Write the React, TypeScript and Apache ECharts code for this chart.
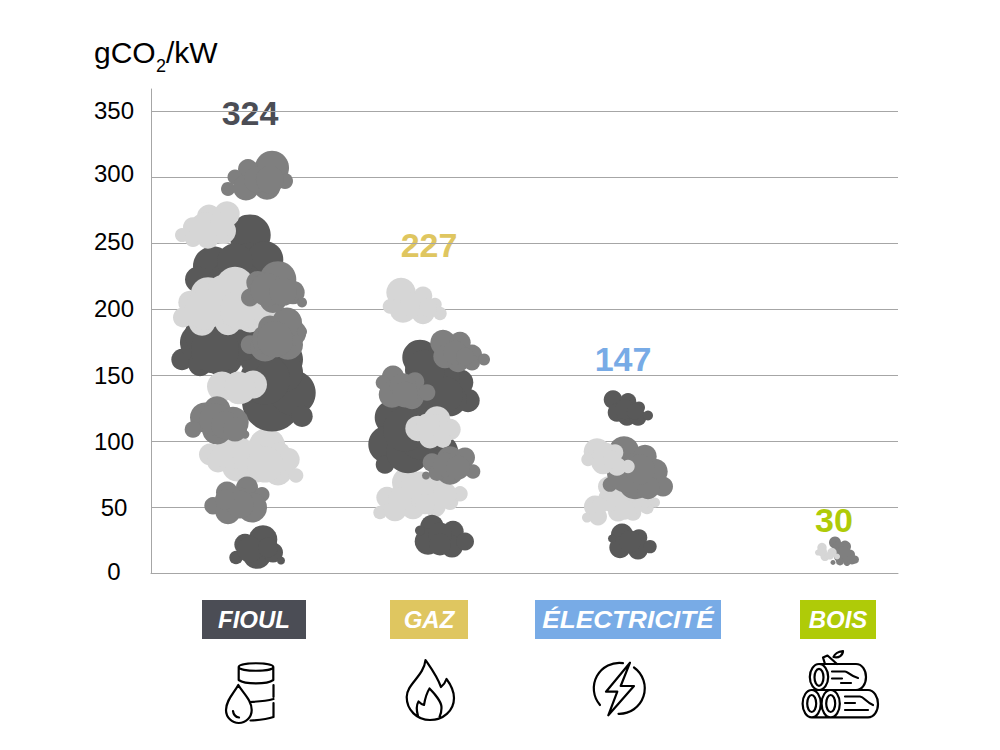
import React, { useEffect, useRef } from 'react';
import * as echarts from 'echarts';

const categories = ['FIOUL', 'GAZ', 'ÉLECTRICITÉ', 'BOIS'];
const totals = [324, 227, 147, 30];
const categoryColors = ['#4B4D55', '#DFC660', '#78ABE6', '#AFCB08'];
const yTicks = [0, 50, 100, 150, 200, 250, 300, 350];
const yLabelLift = [2, 0, 0, 0, 1, 2, 4, 1]; // the source nudges its tick labels by hand

// each puff is [x position, gCO2/kW, radius]
const fioulMidTop = [[272, 307, 17], [248, 306, 10], [235, 300, 7.5], [228, 291, 7], [246, 292, 13], [267, 293, 13.5], [285, 297, 8], [257, 298, 13], [270, 298, 14]];
const fioulDarkUpper = [[250, 256, 20.7], [213, 232.4, 20], [250, 235, 20], [265, 237.5, 18.3], [198, 222.4, 13], [235, 214.8, 30], [235, 236, 18]];
const fioulLightTop = [[227, 272, 12.7], [209, 270, 12], [193, 262, 10], [182, 256, 7], [193, 253, 8], [208, 254, 11], [223, 259, 13], [205, 261.8, 15], [222, 264, 12]];
const fioulLightBig = [[267, 95.8, 18.3], [210, 89.8, 11], [218, 84.5, 11], [237, 80.7, 15], [257, 80, 15], [278, 76.9, 14], [288, 86, 11.7], [296, 73.9, 7.3], [237, 91.3, 16.7], [280, 91.3, 10], [225, 89.8, 13], [250, 87.5, 17], [265, 82.2, 18]];
const fioulDarkRight = [[272, 130, 30], [293, 136.5, 22.7], [302, 118.8, 10.7], [283, 161.7, 20], [283, 152, 20], [265, 146.6, 25]];
const fioulDarkLower = [[182, 161.7, 10.7], [200, 174.6, 20], [200, 158, 11.7], [223, 164, 20], [250, 159.5, 9.3], [210, 180.7, 25], [240, 177, 22], [215, 169.3, 24]];
const fioulLightLarge = [[235, 217.3, 19.3], [208, 211, 17.3], [190, 205, 11.7], [183, 193.6, 10], [202, 189.8, 13.3], [228, 190, 13], [250, 192, 13], [273, 192, 11.7], [230, 202, 18.3], [257, 205, 16.7], [225, 211, 20], [205, 199.6, 20], [240, 199.6, 20], [265, 196, 12]];
const fioulMidLower = [[250, 173, 9.3], [265, 171.6, 15], [288, 173, 15], [293, 182, 13.3], [287, 189.8, 15], [302, 183, 5], [267, 177, 15], [270, 186, 12], [275, 177, 18]];
const fioulMidUpper = [[278, 222.4, 18.3], [258, 220, 11.7], [250, 208.7, 9], [273, 207.2, 13.5], [293, 212.5, 11.7], [302, 205, 5], [267, 214.8, 16.7], [283, 213, 14]];
const fioulLightSmall = [[253, 142.8, 14], [222, 141.3, 15], [238, 137.5, 12.7], [238, 142.8, 13], [240, 140, 16]];
const fioulMidThird = [[205, 117.8, 15], [217, 123.9, 13.3], [193, 108.7, 8.3], [217, 108.7, 15], [233, 114, 15.7], [245, 105, 4.3], [215, 116.3, 16], [225, 112, 14], [235, 108.7, 12]];
const fioulMidFourth = [[227, 61, 11], [247, 64.8, 11], [262, 59.5, 7.5], [213, 51, 8.7], [228, 46.6, 12.7], [252, 49.6, 15], [240, 55.7, 12], [240, 51.9, 14], [225, 55.7, 10]];
const fioulDarkBottom = [[263, 25.4, 14.3], [245, 21.6, 10.7], [236, 11.7, 6.7], [257, 14, 14.3], [273, 15.5, 10], [281, 9.5, 4], [250, 17.8, 13], [268, 19.3, 10]];

const gazLightTop = [[401, 212.5, 14.7], [423, 210, 9.3], [435, 203.4, 6.7], [440, 196.6, 6.7], [390, 202, 7.3], [403, 199.6, 13.3], [423, 197.4, 11.7], [412, 203.4, 12], [428, 201, 9]];
const gazLightLower = [[407, 68.6, 15], [387, 57.2, 10.7], [380, 45.8, 6.7], [395, 48, 11.7], [413, 49.6, 11.7], [435, 50.4, 10.7], [450, 54, 8.3], [460, 60, 7.7], [433, 63.3, 16.7], [420, 63.3, 18], [405, 59.5, 14], [400, 55.7, 12], [445, 59.5, 12], [425, 52, 10]];
const gazDarkUpper = [[420, 163.3, 17.7], [468, 130.7, 11.7], [460, 144.3, 13.3], [450, 131.4, 16.7], [427, 136.7, 23], [440, 150.4, 20], [445, 135.2, 18], [425, 154, 20]];
const gazDarkLower = [[392, 117.8, 17.3], [387, 97.4, 18.7], [385, 82.2, 9.3], [408, 92, 21.7], [410, 116.3, 20], [440, 91.3, 18.3], [420, 101.1, 20], [405, 108.7, 22]];
const gazMidLeft = [[393, 148.9, 11], [383, 144.3, 7.3], [392, 135.2, 13.3], [412, 133, 11.7], [415, 145, 9.3], [427, 136.7, 8.3], [403, 141.3, 13.3], [405, 135.2, 13]];
const gazMidTop = [[443, 174.6, 12.7], [460, 174.6, 10.7], [445, 164, 11.7], [458, 160.2, 10.7], [472, 165.5, 10], [472, 159.5, 8], [484, 161.7, 6], [455, 167, 12], [465, 164, 9]];
const gazLightMid = [[437, 116.3, 13.3], [418, 109.5, 12.7], [450, 108.7, 10.7], [430, 102.7, 11], [443, 101, 8.3], [435, 108.7, 15], [428, 112, 12]];
const gazMidLower = [[450, 86, 13.3], [465, 87.5, 10], [432, 83.7, 9.3], [450, 76.9, 13.3], [437, 76, 8.3], [473, 76.9, 7.3], [426, 73.9, 4], [445, 82.2, 12], [458, 79.9, 12]];
const gazDarkBottom = [[432, 35.2, 11.7], [428, 23.9, 13.3], [453, 31.4, 10.7], [452, 20, 11], [465, 23.9, 9], [420, 32.2, 5], [440, 29.2, 12], [440, 21.6, 11]];

const elecDarkTop = [[613, 131.4, 9.3], [628, 130, 8.3], [617, 121.6, 9.3], [627, 118.6, 9.3], [638, 117.8, 8.3], [639, 125.4, 6], [648, 119.3, 5], [625, 123.9, 10], [635, 122.3, 8]];
const elecLightLower = [[608, 65.5, 10], [595, 50.4, 11], [587, 42, 5], [598, 42.8, 9], [618, 46.6, 10], [633, 45.8, 8.3], [647, 49.6, 6.7], [655, 53.4, 5], [620, 58, 13.3], [610, 55.7, 12], [635, 55.7, 14], [625, 48, 10], [600, 51, 8], [645, 55.7, 8]];
const elecMid = [[624, 92, 15.3], [645, 88.3, 11.7], [655, 76.9, 12.7], [663, 65.5, 10], [635, 68.6, 16.7], [610, 67, 7.3], [648, 64.8, 11.7], [627, 76, 20], [640, 78.4, 15]];
const elecLightTop = [[597, 92, 13.3], [588, 86, 6.7], [603, 83.7, 11.7], [615, 91.3, 8.3], [617, 80.7, 9.3], [628, 80.7, 6.7], [605, 89.8, 12], [612, 86, 9]];
const elecDarkBottom = [[622, 29.2, 11], [620, 19.3, 10.7], [639, 26.9, 8.3], [638, 17.8, 10], [650, 20, 6.7], [612, 26.1, 4], [630, 23.9, 11]];

const boisMid = [[835, 23.1, 6], [845, 20, 6], [850, 14, 5], [855, 10.2, 4], [840, 12.5, 6], [847, 8, 3.5], [833, 8, 2.5], [838, 19.3, 6], [843, 14, 8], [852, 10.2, 5], [840, 8.8, 4]];
const boisLight = [[822, 19.3, 4.7], [818, 15.5, 3], [825, 12.5, 4.5], [832, 15.5, 4.7], [837, 12.5, 3], [822, 16.3, 5], [830, 13.2, 4]];

const DARK = '#595959';
const MID = '#7F7F7F';
const LIGHT = '#D6D6D6';

// painted in this order, later clouds cover earlier ones
const clouds: [number[][], string][] = [
  [fioulMidTop, MID],
  [fioulDarkUpper, DARK],
  [fioulLightTop, LIGHT],
  [fioulLightBig, LIGHT],
  [fioulDarkRight, DARK],
  [fioulDarkLower, DARK],
  [fioulLightLarge, LIGHT],
  [fioulMidLower, MID],
  [fioulMidUpper, MID],
  [fioulLightSmall, LIGHT],
  [fioulMidThird, MID],
  [fioulMidFourth, MID],
  [fioulDarkBottom, DARK],
  [gazLightTop, LIGHT],
  [gazLightLower, LIGHT],
  [gazDarkUpper, DARK],
  [gazDarkLower, DARK],
  [gazMidLeft, MID],
  [gazMidTop, MID],
  [gazLightMid, LIGHT],
  [gazMidLower, MID],
  [gazDarkBottom, DARK],
  [elecDarkTop, DARK],
  [elecLightLower, LIGHT],
  [elecMid, MID],
  [elecLightTop, LIGHT],
  [elecDarkBottom, DARK],
  [boisMid, MID],
  [boisLight, LIGHT],
];

echarts.graphic.registerShape('barrelIcon', echarts.graphic.extendPath(
  'M238.7 667C238.7 662 273.3 662 273.3 667C273.3 672 238.7 672 238.7 667ZM238.7 667V680C245 684.5 267 684.5 273.3 680V667M273.5 685V697M250 702C260 701.5 268 700.5 273.5 699M273.5 703V717C268 719 260 720 250.5 720.5M238.3 685C234 693 226 700 226 710C226 717.5 232 723 238.8 723C245.6 723 251.7 717.5 251.7 710C251.7 700 243 693 238.3 685ZM233 711C233.5 715 235.5 717 239 717.5',
  {},
) as any);
echarts.graphic.registerShape('flameIcon', echarts.graphic.extendPath(
  'M425.5 660C431 668 437 676 441 687C443.5 685 445.5 682 446.5 679C451 685 454 691 454 698C454 711 443 720 430 720C417 720 406.7 710 406.7 697C406.7 684 424 676 425.5 660ZM418 716C416 709 417 704 418.5 701.5C420 703 422 704.5 424 705C425 699 426 694 429.5 688.5C435 694 442 703 441.5 708C441.5 711 441 714 439.5 717',
  {},
) as any);
echarts.graphic.registerShape('boltIcon', echarts.graphic.extendPath(
  'M623 663.1A25.5 25.5 0 0 0 600 705M634 667.5A25.5 25.5 0 0 1 618.5 713.8M630 662.7L606 691.7H617.3L608.3 715.3L634 686H620.7Z',
  {},
) as any);
echarts.graphic.registerShape('logsIcon', echarts.graphic.extendPath(
  'M819 664A9.2 13 0 1 0 819 690A9.2 13 0 1 0 819 664ZM819 668.8A4.5 8.5 0 1 0 819 685.8A4.5 8.5 0 1 0 819 668.8ZM819 664H856C862 664 866 670 866 677C866 684 862 690 856 690H840M811.7 690A9 13.5 0 1 0 811.7 717.3A9 13.5 0 1 0 811.7 690ZM811.7 695A4.5 8.5 0 1 0 811.7 712A4.5 8.5 0 1 0 811.7 695ZM830.7 690A9 13.5 0 1 0 830.7 717.3A9 13.5 0 1 0 830.7 690ZM830.7 695A4.5 8.5 0 1 0 830.7 712A4.5 8.5 0 1 0 830.7 695ZM811.7 690H868C874 690 878 697 878 704C878 711 874 717.3 868 717.3H811.7M832 671.5H845C848 671.5 850 676 858 678M832 678.5H842M841 683H851M845 696.5H860C864 697 866 702 873 705M845 703H855M845 710H868M825 664L823 657.5L827.5 655.5L837 664M833.5 657C835 653 839 651.5 843 651C843 655 839 658.5 833.5 657Z',
  {},
) as any);

const iconNames = ['barrelIcon', 'flameIcon', 'boltIcon', 'logsIcon'];
const chipBoxes = [[202, 104], [390, 78], [535, 186], [800, 76]];
const totalSpots = [[250, 113], [429, 245], [623, 359], [834, 520]];
const chipStretch = [1, 1, 1.09, 1];

const App: React.FC = () => {
  const chartRef = useRef<HTMLDivElement | null>(null);

  useEffect(() => {
    if (!chartRef.current) return;
    const myChart = echarts.init(chartRef.current, undefined, { renderer: 'svg' });

    const font = 'Liberation Sans, Arial, sans-serif';
    const unitStyle = { fill: '#000', fontFamily: font, verticalAlign: 'middle' };
    const graphicElements: any[] = [
      { type: 'text', x: 94, y: 52, style: { ...unitStyle, text: 'gCO', fontSize: 30 } },
      { type: 'text', x: 156, y: 66, style: { ...unitStyle, text: '2', fontSize: 18 } },
      { type: 'text', x: 166, y: 52, style: { ...unitStyle, text: '/kW', fontSize: 30 } },
    ];

    categories.forEach((name, i) => {
      const [chipX, chipW] = chipBoxes[i];
      graphicElements.push({
        type: 'rect',
        shape: { x: chipX, y: 600, width: chipW, height: 39 },
        style: { fill: categoryColors[i] },
      });
      graphicElements.push({
        type: 'text',
        x: chipX + chipW / 2,
        y: 619.5,
        scaleX: chipStretch[i],
        style: {
          text: name,
          fill: '#fff',
          fontFamily: font,
          fontSize: 24,
          fontWeight: 'bold',
          fontStyle: 'italic',
          align: 'center',
          verticalAlign: 'middle',
        },
      });
      graphicElements.push({
        type: 'text',
        x: totalSpots[i][0],
        y: totalSpots[i][1],
        style: {
          text: String(totals[i]),
          fill: categoryColors[i],
          fontFamily: font,
          fontSize: 34,
          fontWeight: 'bold',
          align: 'center',
          verticalAlign: 'middle',
        },
      });
      graphicElements.push({
        type: iconNames[i],
        x: 0,
        y: 0,
        style: { fill: 'none', stroke: '#000', lineWidth: 2.2, lineCap: 'round', lineJoin: 'round' },
      });
    });

    const liftStyles: Record<string, object> = {};
    yLabelLift.forEach((lift) => {
      liftStyles['up' + lift] = {
        fontFamily: font,
        fontSize: 24,
        color: '#000',
        padding: [0, 0, lift * 2, 0],
      };
    });

    const option = {
      animation: false,
      backgroundColor: '#fff',
      grid: { left: 151, right: 102, top: 89, height: 484 },
      xAxis: {
        type: 'value',
        min: 151,
        max: 898,
        axisLine: { show: true, lineStyle: { color: '#A6A6A6', width: 1 } },
        axisTick: { show: false },
        axisLabel: { show: false },
        splitLine: { show: false },
      },
      yAxis: {
        type: 'value',
        min: 0,
        max: 366.67,
        interval: 50,
        axisLine: { show: true, lineStyle: { color: '#A6A6A6', width: 1 } },
        axisTick: { show: false },
        axisLabel: {
          margin: 37,
          align: 'center',
          color: '#000',
          fontFamily: font,
          fontSize: 24,
          showMaxLabel: false,
          rich: liftStyles,
          formatter: (v: number) => {
            const i = yTicks.indexOf(v);
            return i < 0 ? '' : `{up${yLabelLift[i]}|${v}}`;
          },
        },
        splitLine: { show: true, showMaxLine: false, lineStyle: { color: '#A6A6A6', width: 1 } },
      },
      series: clouds.map(([puffs, color]) => ({
        type: 'scatter',
        silent: true,
        symbol: 'circle',
        symbolSize: (d: number[]) => d[2] * 2,
        itemStyle: { color, opacity: 1 },
        data: puffs,
      })),
      graphic: { elements: graphicElements },
    };

    myChart.setOption(option as any);

    return () => {
      myChart.dispose();
    };
  }, []);

  return <div ref={chartRef} style={{ position: 'fixed', left: 0, top: 0, width: 1000, height: 750 }} />;
};

export default App;
